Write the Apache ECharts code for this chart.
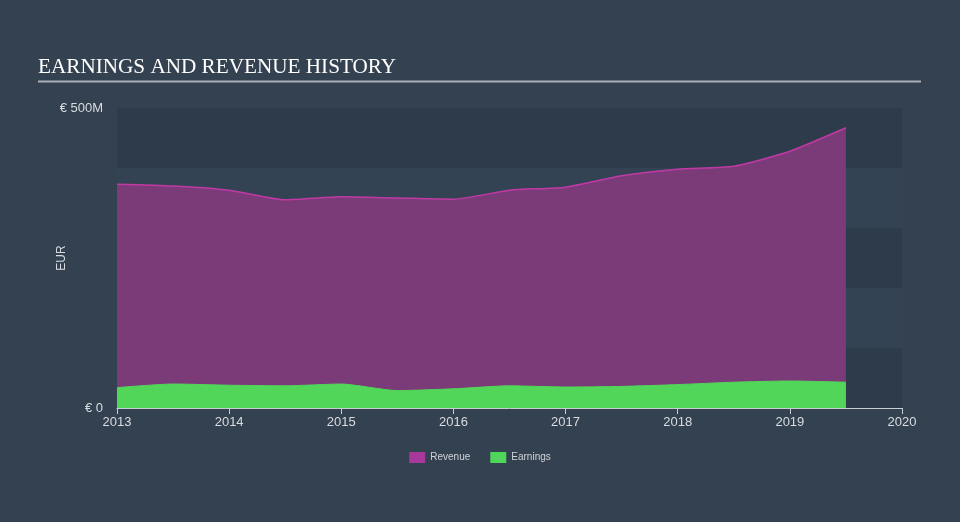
<!DOCTYPE html>
<html>
<head>
<meta charset="utf-8">
<script src="https://cdn.jsdelivr.net/npm/echarts@6/dist/echarts.min.js"></script>
<style>
html,body{margin:0;padding:0;background:#344150;}
#chart{width:960px;height:522px;}
</style>
</head>
<body>
<div id="chart"></div>
<script>
// Half-year time points
var periods = [2013.0, 2013.5, 2014.0, 2014.5, 2015.0, 2015.5, 2016.0, 2016.5, 2017.0, 2017.5, 2018.0, 2018.5, 2019.0, 2019.5];
// Values in millions of EUR
var revenue = [373, 370, 363, 347, 352, 350, 348, 363, 368, 387, 398, 403, 428, 467];
var earnings = [34, 40, 38, 37, 40, 29, 32, 37, 35, 36, 39, 43, 45, 43];
var yTickLabels = {0: '€ 0', 500: '€ 500M'};

function pairs(xs, ys) { return xs.map(function (x, i) { return [x, ys[i]]; }); }

var sans = 'Liberation Sans, Arial, Helvetica, sans-serif';
var chart = echarts.init(document.getElementById('chart'), null, {renderer: 'canvas'});
chart.setOption({
  backgroundColor: '#344150',
  animation: false,
  title: {
    text: 'EARNINGS AND REVENUE HISTORY',
    left: 38, top: 57, padding: 0,
    textStyle: {color: '#ffffff', fontFamily: 'Liberation Serif, Times New Roman, serif', fontWeight: 'normal', fontSize: 21.2}
  },
  graphic: [{
    type: 'line', shape: {x1: 38, y1: 81.5, x2: 921, y2: 81.5},
    style: {stroke: '#a9b0b8', lineWidth: 2}
  }],
  legend: {
    bottom: 54, left: 'center',
    itemWidth: 16, itemHeight: 11, itemGap: 20,
    icon: 'rect',
    textStyle: {color: '#d0d4d8', fontSize: 10, fontFamily: sans},
    data: ['Revenue', 'Earnings']
  },
  grid: {left: 117, right: 58, top: 108, bottom: 114, containLabel: false},
  xAxis: {
    type: 'value', min: 2013, max: 2020, interval: 1,
    axisLine: {lineStyle: {color: '#c8ced6', width: 1}},
    axisTick: {show: true, length: 6, lineStyle: {color: '#c8ced6'}},
    axisLabel: {color: '#d8dce0', fontSize: 13, fontFamily: sans, margin: 8,
      formatter: function (v) { return String(Math.round(v)); }},
    splitLine: {show: false}
  },
  yAxis: {
    type: 'value', min: 0, max: 500, interval: 100,
    name: 'EUR', nameLocation: 'middle', nameGap: 49, nameRotate: 90, nameMoveOverlap: false,
    nameTextStyle: {color: '#d8dce0', fontSize: 12, fontFamily: sans},
    axisLine: {show: false}, axisTick: {show: false},
    axisLabel: {color: '#d8dce0', fontSize: 13, fontFamily: sans, margin: 14,
      verticalAlign: 'middle',
      formatter: function (v) { return yTickLabels[v] || ''; }},
    splitLine: {show: false},
    splitArea: {show: true, areaStyle: {color: ['#2e3b4b', '#334353']}}
  },
  series: [
    {
      name: 'Revenue', type: 'line', data: pairs(periods, revenue),
      showSymbol: false, smooth: 0.2,
      itemStyle: {color: '#a8399a'},
      lineStyle: {color: '#c03aa5', width: 1.5},
      areaStyle: {color: '#7b3a78', opacity: 1}
    },
    {
      name: 'Earnings', type: 'line', data: pairs(periods, earnings),
      showSymbol: false, smooth: 0.2,
      itemStyle: {color: '#4fd65a'},
      lineStyle: {color: '#52d65a', width: 1},
      areaStyle: {color: '#52d65a', opacity: 1}
    }
  ]
});
</script>
</body>
</html>
